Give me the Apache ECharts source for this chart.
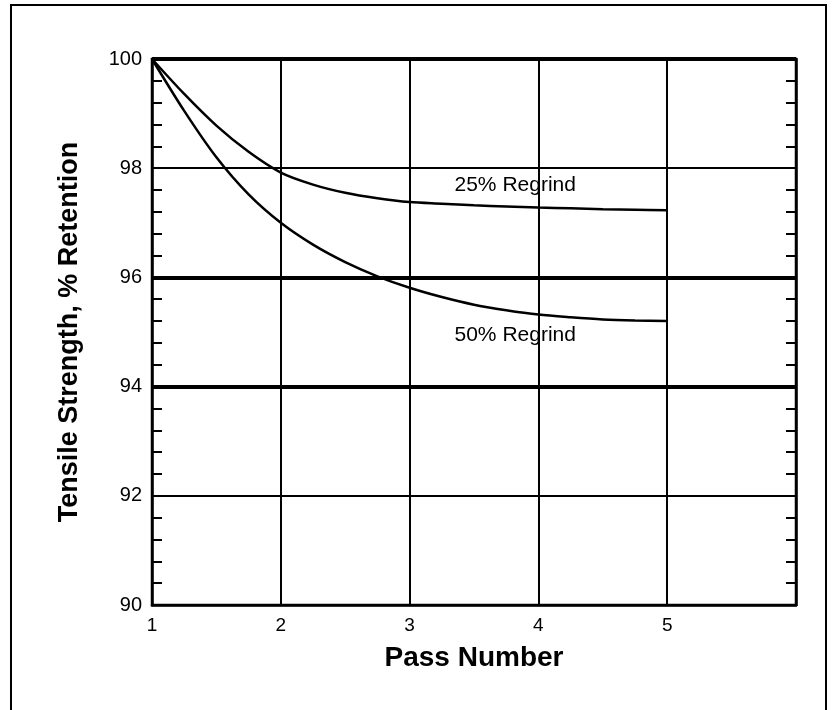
<!DOCTYPE html>
<html><head><meta charset="utf-8">
<script src="https://cdn.jsdelivr.net/npm/echarts@6/dist/echarts.min.js"></script>
<style>html,body{margin:0;padding:0;background:#fff}#c{width:836px;height:710px}</style>
</head><body><div id="c"></div>
<script>
const passNumbers = [1, 1.25, 1.5, 1.75, 2, 2.25, 2.5, 2.75, 3, 3.25, 3.5, 3.75, 4, 4.25, 4.5, 4.75, 5];
const regrind25 = [100, 99.36, 98.78, 98.30, 97.92, 97.70, 97.55, 97.45, 97.38, 97.35, 97.32, 97.30, 97.28, 97.265, 97.25, 97.24, 97.23];
const regrind50 = [100, 99.05, 98.20, 97.52, 97.00, 96.60, 96.28, 96.02, 95.81, 95.64, 95.50, 95.40, 95.32, 95.27, 95.23, 95.21, 95.20];
const seriesNames = ['25% Regrind', '50% Regrind'];
const labelPos = [[3.82, 97.69], [3.82, 94.95]];
const xTicks = [1, 2, 3, 4, 5];
const yTicks = [90, 92, 94, 96, 98, 100];
const heavyGrid = [94, 96, 100];

const font = 'Liberation Sans, Arial, Helvetica, sans-serif';
const chart = echarts.init(document.getElementById('c'));
function mk(vals){ return passNumbers.map((x,i)=>[x, vals[i]]); }
const yBase = {
  type:'value', min:90, max:100, interval:2,
  axisLine:{show:true, lineStyle:{color:'#000', width:2.5}},
  axisTick:{show:false, inside:true},
  minorTick:{show:true, splitNumber:5, length:10, lineStyle:{color:'#000', width:2}},
  minorSplitLine:{show:false}
};
chart.setOption({
  animation:false,
  backgroundColor:'#fff',
  graphic:[{type:'rect', shape:{x:11, y:5, width:815, height:730}, style:{fill:'none', stroke:'#000', lineWidth:2}, z:100}],
  grid:{left:152, top:59, right:40, bottom:105, show:true, borderColor:'#000', borderWidth:2.5},
  xAxis:{
    type:'value', min:1, max:6, interval:1,
    name:'Pass Number', nameLocation:'middle', nameGap:39,
    nameTextStyle:{fontFamily:font, fontWeight:'bold', fontSize:28, color:'#000'},
    axisLine:{show:true, lineStyle:{color:'#000', width:2.5}},
    axisTick:{show:false},
    axisLabel:{margin:11, fontFamily:font, fontSize:19, color:'#000',
      formatter:v=> xTicks.includes(v) ? String(v) : ''},
    splitLine:{show:true, lineStyle:{color:'#000', width:2}}
  },
  yAxis:[
    Object.assign({}, yBase, {
      position:'left',
      name:'Tensile Strength, % Retention', nameLocation:'middle', nameGap:69,
      nameTextStyle:{fontFamily:font, fontWeight:'bold', fontSize:27, color:'#000'},
      axisLabel:{margin:10, fontFamily:font, fontSize:20, color:'#000',
        formatter:v=> yTicks.includes(v) ? String(v) : ''},
      splitLine:{show:true, lineStyle:{color:'#000', width:2}}
    }),
    Object.assign({}, yBase, {
      position:'right', axisLabel:{show:false}, splitLine:{show:false}
    })
  ],
  series:[
    {
      name:seriesNames[0], type:'line', smooth:0.3, symbol:'none', data:mk(regrind25),
      lineStyle:{color:'#000', width:2.5}, z:5,
      markLine:{silent:true, symbol:'none', label:{show:false},
        lineStyle:{color:'#000', width:4, type:'solid'},
        data: heavyGrid.map(v=>({yAxis:v}))},
      markPoint:{symbol:'circle', symbolSize:0,
        data:[{coord:labelPos[0], value:seriesNames[0]}],
        label:{show:true, formatter:seriesNames[0], position:'inside', fontFamily:font, fontSize:21, color:'#000'}}
    },
    {
      name:seriesNames[1], type:'line', smooth:0.3, symbol:'none', data:mk(regrind50),
      lineStyle:{color:'#000', width:2.5}, z:5,
      markPoint:{symbol:'circle', symbolSize:0,
        data:[{coord:labelPos[1], value:seriesNames[1]}],
        label:{show:true, formatter:seriesNames[1], position:'inside', fontFamily:font, fontSize:21, color:'#000'}}
    }
  ]
});
</script></body></html>
